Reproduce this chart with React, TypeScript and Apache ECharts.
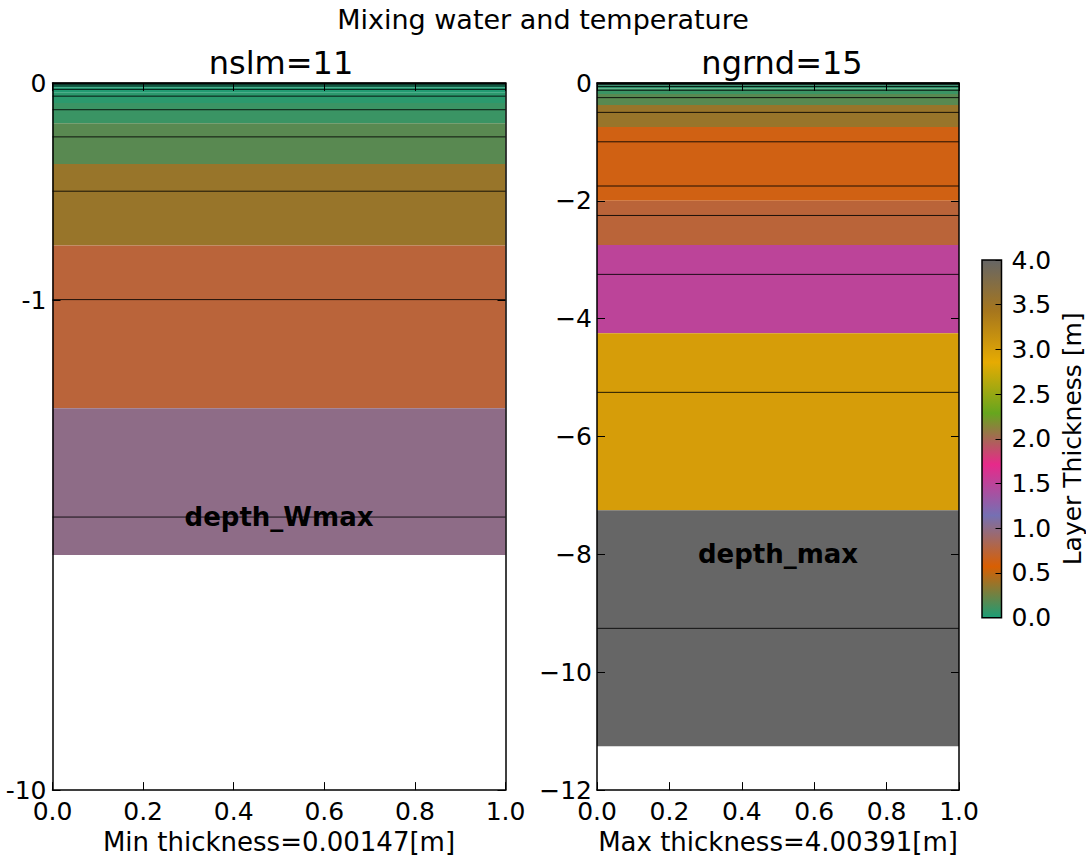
import React, { useEffect, useRef } from "react";
import * as echarts from "echarts";

const FONT = '"DejaVu Sans", "Liberation Sans", sans-serif';

// ---- texts ----
const suptitle = "Mixing water and temperature";
const panelTitles = ["nslm=11", "ngrnd=15"];
const xAxisNames = ["Min thickness=0.00147[m]", "Max thickness=4.00391[m]"];
const colorbarLabel = "Layer Thickness [m]";
const markerTexts = ["depth_Wmax", "depth_max"];

// ---- data (depths in metres, positive downwards) ----
// hydrology layers (nslm = 11): node depths (black lines) and layer boundaries
const nslmNodes = [0, 0.001955, 0.005865, 0.013685, 0.02933, 0.06061, 0.12317, 0.24829, 0.49853, 0.99804, 2.0];
const nslmBounds = [0, 0.00098, 0.00391, 0.00978, 0.02151, 0.04497, 0.09189, 0.18573, 0.37341, 0.74829, 1.49902, 2.5];
// thermal layers (ngrnd = 15)
const ngrndNodes = [0, 0.001955, 0.005865, 0.013685, 0.02933, 0.06061, 0.12317, 0.24829, 0.49853, 0.99804, 1.748, 2.248, 3.248, 5.25, 9.255];
const ngrndBounds = [0, 0.00098, 0.00391, 0.00978, 0.02151, 0.04497, 0.09189, 0.18573, 0.37341, 0.74829, 1.373, 1.998, 2.748, 4.249, 7.2525, 11.2565];
// marker label depths
const markerDepths = [2.0, 8.0];

// ---- axes ----
const leftYTickValues = [0, -1, -10];
const leftYMin = -10;
const rightYMin = -12;
const rightYInterval = 2;
const xMin = 0;
const xMax = 1;
const xInterval = 0.2;
const cbMin = 0;
const cbMax = 4;
const cbInterval = 0.5;

// Dark2 colormap
const dark2 = ["#1b9e77", "#d95f02", "#7570b3", "#e7298a", "#66a61e", "#e6ab02", "#a6761d", "#666666"];

// symlog scale (base 10, linthresh 2, linscale 1)
const LINTHRESH = 2;
const LINSCALE = 1;
const BASE = 10;
const LINADJ = LINSCALE / (1 - 1 / BASE);
function symlog(v: number): number {
  const a = Math.abs(v);
  if (a <= LINTHRESH) return v * LINADJ;
  return Math.sign(v) * LINTHRESH * (LINADJ + Math.log(a / LINTHRESH) / Math.log(BASE));
}

const layers = (b: number[]) => b.slice(0, -1).map((top, i) => [top, b[i + 1], b[i + 1] - top]);

const tfLeft = (d: number) => symlog(-d);
const tfRight = (d: number) => -d;

const layerRender = (tf: (d: number) => number) => (params: any, api: any) => {
  const p1 = api.coord([xMin, tf(api.value(0))]);
  const p2 = api.coord([xMax, tf(api.value(1))]);
  return {
    type: "rect",
    shape: { x: p1[0], y: p1[1], width: p2[0] - p1[0], height: p2[1] - p1[1] },
    style: { fill: api.visual("color") },
  };
};

const lineRender = (tf: (d: number) => number) => (params: any, api: any) => {
  const p1 = api.coord([xMin, tf(api.value(0))]);
  const p2 = api.coord([xMax, tf(api.value(0))]);
  return {
    type: "line",
    shape: { x1: p1[0], y1: p1[1], x2: p2[0], y2: p2[1] },
    style: { stroke: "#000", lineWidth: 1, opacity: 0.85 },
  };
};

const textRender = (tf: (d: number) => number, label: string) => (params: any, api: any) => {
  const p = api.coord([api.value(0), tf(api.value(1))]);
  return {
    type: "text",
    x: p[0],
    y: p[1],
    style: {
      text: label,
      fill: "#000",
      fontSize: 26,
      fontWeight: "bold",
      fontFamily: FONT,
      align: "center",
      verticalAlign: "middle",
    },
  };
};

const labelStyle = { fontSize: 25, fontFamily: FONT, color: "#000" };
const axisLineStyle = { show: true, onZero: false, lineStyle: { color: "#000", width: 1.5 } };
const tickStyle = (len: number) => ({ show: true, inside: true, length: len, lineStyle: { color: "#000", width: 1 } });

function xAxes(gridIndex: number, name: string) {
  return [
    {
      type: "value",
      gridIndex,
      position: "bottom",
      min: xMin,
      max: xMax,
      interval: xInterval,
      z: 10,
      axisLine: axisLineStyle,
      axisTick: tickStyle(8),
      splitLine: { show: false },
      axisLabel: { ...labelStyle, margin: 9, formatter: (v: number) => v.toFixed(1) },
      name,
      nameLocation: "middle",
      nameGap: 38,
      nameTextStyle: { fontSize: 26, fontFamily: FONT, color: "#000" },
    },
    {
      type: "value",
      gridIndex,
      position: "top",
      min: xMin,
      max: xMax,
      interval: xInterval,
      z: 10,
      axisLine: axisLineStyle,
      axisTick: tickStyle(8),
      splitLine: { show: false },
      axisLabel: { show: false },
    },
  ];
}

const leftTickPos = leftYTickValues.map(symlog);
const leftYFormatter = (v: number) => {
  const i = leftTickPos.findIndex((t) => Math.abs(t - v) < 1e-9);
  return i >= 0 ? String(leftYTickValues[i]) : "";
};
const rightYFormatter = (v: number) => (v === 0 ? "0" : "\u2212" + Math.abs(v));

export default function App() {
  const ref = useRef<HTMLDivElement>(null);
  useEffect(() => {
    if (!ref.current) return;
    const chart = echarts.init(ref.current, undefined, { renderer: "svg" });
    const option: any = {
      animation: false,
      backgroundColor: "#fff",
      textStyle: { fontFamily: FONT },
      grid: [
        { left: 52.5, top: 83, width: 453, height: 711 },
        { left: 597, top: 83, width: 362, height: 711 },
        { left: 982, top: 260, width: 19.5, height: 357.7 },
      ],
      xAxis: [
        ...xAxes(0, xAxisNames[0]),
        ...xAxes(1, xAxisNames[1]),
        { type: "value", gridIndex: 2, min: 0, max: 1, show: false },
      ],
      yAxis: [
        {
          type: "value",
          gridIndex: 0,
          position: "left",
          min: symlog(leftYMin),
          max: 0,
          z: 10,
          axisLine: axisLineStyle,
          axisTick: { ...tickStyle(8), customValues: leftTickPos },
          splitLine: { show: false },
          axisLabel: { ...labelStyle, margin: 6, customValues: leftTickPos, formatter: leftYFormatter },
        },
        {
          type: "value",
          gridIndex: 0,
          position: "right",
          min: symlog(leftYMin),
          max: 0,
          z: 10,
          axisLine: axisLineStyle,
          axisTick: { ...tickStyle(8), customValues: leftTickPos },
          splitLine: { show: false },
          axisLabel: { show: false },
        },
        {
          type: "value",
          gridIndex: 1,
          position: "left",
          min: rightYMin,
          max: 0,
          interval: rightYInterval,
          z: 10,
          axisLine: axisLineStyle,
          axisTick: tickStyle(8),
          splitLine: { show: false },
          axisLabel: { ...labelStyle, margin: 5, formatter: rightYFormatter },
        },
        {
          type: "value",
          gridIndex: 1,
          position: "right",
          min: rightYMin,
          max: 0,
          interval: rightYInterval,
          z: 10,
          axisLine: axisLineStyle,
          axisTick: tickStyle(8),
          splitLine: { show: false },
          axisLabel: { show: false },
        },
        {
          type: "value",
          gridIndex: 2,
          position: "right",
          min: cbMin,
          max: cbMax,
          interval: cbInterval,
          z: 10,
          axisLine: { show: false, onZero: false },
          axisTick: { show: true, inside: true, length: 6, lineStyle: { color: "#000", width: 1 } },
          splitLine: { show: false },
          axisLabel: { ...labelStyle, margin: 10, formatter: (v: number) => v.toFixed(1) },
          name: colorbarLabel,
          nameLocation: "middle",
          nameRotate: 90,
          nameGap: 58,
          nameTextStyle: { fontSize: 25, fontFamily: FONT, color: "#000" },
        },
      ],
      visualMap: {
        type: "continuous",
        show: false,
        min: cbMin,
        max: cbMax,
        dimension: 2,
        seriesIndex: [0, 3],
        inRange: { color: dark2 },
      },
      series: [
        {
          type: "custom",
          xAxisIndex: 0,
          yAxisIndex: 0,
          renderItem: layerRender(tfLeft),
          data: layers(nslmBounds),
          z: 1,
        },
        {
          type: "custom",
          xAxisIndex: 0,
          yAxisIndex: 0,
          renderItem: lineRender(tfLeft),
          data: nslmNodes.map((d) => [d]),
          z: 2,
        },
        {
          type: "custom",
          xAxisIndex: 0,
          yAxisIndex: 0,
          renderItem: textRender(tfLeft, markerTexts[0]),
          data: [[0.5, markerDepths[0]]],
          z: 3,
        },
        {
          type: "custom",
          xAxisIndex: 2,
          yAxisIndex: 2,
          renderItem: layerRender(tfRight),
          data: layers(ngrndBounds),
          z: 1,
        },
        {
          type: "custom",
          xAxisIndex: 2,
          yAxisIndex: 2,
          renderItem: lineRender(tfRight),
          data: ngrndNodes.map((d) => [d]),
          z: 2,
        },
        {
          type: "custom",
          xAxisIndex: 2,
          yAxisIndex: 2,
          renderItem: textRender(tfRight, markerTexts[1]),
          data: [[0.5, markerDepths[1]]],
          z: 3,
        },
        {
          type: "custom",
          xAxisIndex: 4,
          yAxisIndex: 4,
          data: [[cbMin, cbMax]],
          z: 1,
          renderItem: (params: any, api: any) => {
            const p1 = api.coord([0, api.value(1)]);
            const p2 = api.coord([1, api.value(0)]);
            return {
              type: "rect",
              shape: { x: p1[0], y: p1[1], width: p2[0] - p1[0], height: p2[1] - p1[1] },
              style: {
                fill: new echarts.graphic.LinearGradient(
                  0, 1, 0, 0,
                  dark2.map((c, i) => ({ offset: i / (dark2.length - 1), color: c }))
                ),
                stroke: "#000",
                lineWidth: 1.5,
              },
            };
          },
        },
      ],
      graphic: [
        {
          type: "text",
          x: 543,
          y: 19,
          style: { text: suptitle, fill: "#000", fontSize: 27, fontFamily: FONT, align: "center", verticalAlign: "middle" },
        },
        {
          type: "text",
          x: 281,
          y: 63,
          style: { text: panelTitles[0], fill: "#000", fontSize: 32, fontFamily: FONT, align: "center", verticalAlign: "middle" },
        },
        {
          type: "text",
          x: 782,
          y: 63,
          style: { text: panelTitles[1], fill: "#000", fontSize: 32, fontFamily: FONT, align: "center", verticalAlign: "middle" },
        },
      ],
    };
    chart.setOption(option);
    return () => chart.dispose();
  }, []);
  return (
    <div
      ref={ref}
      style={{ position: "fixed", left: 0, top: 0, width: 1086, height: 860, background: "#fff" }}
    />
  );
}
